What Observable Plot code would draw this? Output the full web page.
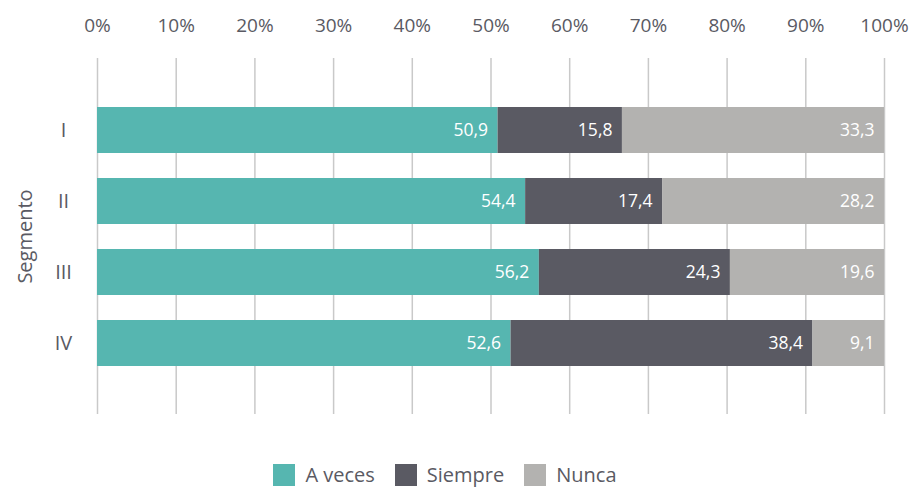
<!DOCTYPE html>
<html>
<head>
<meta charset="utf-8">
<script src="https://cdn.jsdelivr.net/npm/d3@7"></script>
<script src="https://cdn.jsdelivr.net/npm/@observablehq/plot@0.6"></script>
<style>
  html, body { margin: 0; padding: 0; background: #fff; }
  body { width: 910px; height: 491px; overflow: hidden; font-family: "Open Sans", sans-serif; }
  #legend { display: flex; justify-content: center; margin-top: 28px; }
</style>
</head>
<body>
<div id="chart"></div>
<div id="legend"></div>
<script>
const segments = ["I", "II", "III", "IV"];
const categories = ["A veces", "Siempre", "Nunca"];
const aVeces  = [50.9, 54.4, 56.2, 52.6];
const siempre = [15.8, 17.4, 24.3, 38.4];
const nunca   = [33.3, 28.2, 19.6, 9.1];
const xTicks = [0, 0.1, 0.2, 0.3, 0.4, 0.5, 0.6, 0.7, 0.8, 0.9, 1];
const colors = ["#56b6b0", "#5a5a63", "#b3b2b0"];

const series = [aVeces, siempre, nunca];
const data = [];
segments.forEach((s, i) => {
  categories.forEach((c, j) => data.push({seg: s, cat: c, value: series[j][i]}));
});
const fmt = v => v.toFixed(1).replace(".", ",");
const textColor = "#5a5a63";

const plot = Plot.plot({
  width: 910,
  height: 430,
  marginLeft: 97,
  marginRight: 26,
  marginTop: 58,
  marginBottom: 16,
  style: {fontFamily: "Open Sans, sans-serif", color: textColor, background: "#fff"},
  x: {domain: [0, 1], ticks: xTicks, tickFormat: d3.format(".0%")},
  y: {domain: segments, paddingInner: 0.358, paddingOuter: 0.67, label: "Segmento"},
  color: {domain: categories, range: colors},
  marks: [
    Plot.gridX(xTicks, {stroke: "#c9c9c9", strokeOpacity: 1, strokeWidth: 1.5}),
    Plot.barX(data, Plot.stackX({x: "value", y: "seg", fill: "cat", z: "cat", order: categories, offset: "normalize"})),
    Plot.text(data, Plot.stackX2({x: "value", y: "seg", z: "cat", order: categories, offset: "normalize",
      text: d => fmt(d.value), textAnchor: "end", dx: -10, fill: "#fff", fontSize: 17.5})),
    Plot.axisX(xTicks, {anchor: "top", tickSize: 0, tickPadding: 27, tickFormat: d3.format(".0%"), fontSize: 19, label: null}),
    Plot.axisY({tickSize: 0, tickPadding: 34, textAnchor: "middle", fontSize: 20, label: "Segmento", labelAnchor: "center", labelOffset: 80})
  ]
});
document.getElementById("chart").appendChild(plot);

const leg = Plot.legend({
  color: {domain: categories, range: colors},
  swatchSize: 22,
  swatchWidth: 22,
  swatchHeight: 22,
  style: {fontSize: "20px", fontFamily: "Open Sans, sans-serif", color: textColor}
});
document.getElementById("legend").appendChild(leg);
</script>
</body>
</html>
